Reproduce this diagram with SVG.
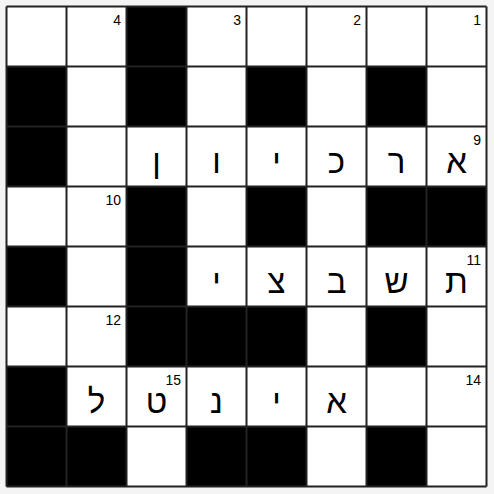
<svg xmlns="http://www.w3.org/2000/svg" width="494" height="494" viewBox="0 0 494 494">
<style>
.w{fill:#fff}
.b{fill:#000}
.grid{stroke:#222;stroke-width:2;fill:none}
.l{font-family:"Liberation Sans","DejaVu Sans",Arial,sans-serif;font-size:33px;fill:#000;text-anchor:middle}
.n{font-family:"Liberation Sans","DejaVu Sans",Arial,sans-serif;font-size:14px;fill:#000;text-anchor:end}
</style>
<rect x="0" y="0" width="494" height="494" fill="#f4f4f4"/>
<g id="cells">
<rect class="w" x="6.5" y="6.5" width="480" height="480"/>
<g id="black">
<rect class="b" x="126.5" y="6.5" width="60" height="60"/>
<rect class="b" x="6.5" y="66.5" width="60" height="60"/>
<rect class="b" x="126.5" y="66.5" width="60" height="60"/>
<rect class="b" x="246.5" y="66.5" width="60" height="60"/>
<rect class="b" x="366.5" y="66.5" width="60" height="60"/>
<rect class="b" x="6.5" y="126.5" width="60" height="60"/>
<rect class="b" x="126.5" y="186.5" width="60" height="60"/>
<rect class="b" x="246.5" y="186.5" width="60" height="60"/>
<rect class="b" x="366.5" y="186.5" width="120" height="60"/>
<rect class="b" x="6.5" y="246.5" width="60" height="60"/>
<rect class="b" x="126.5" y="246.5" width="60" height="60"/>
<rect class="b" x="126.5" y="306.5" width="180" height="60"/>
<rect class="b" x="366.5" y="306.5" width="60" height="60"/>
<rect class="b" x="6.5" y="366.5" width="60" height="60"/>
<rect class="b" x="6.5" y="426.5" width="120" height="60"/>
<rect class="b" x="186.5" y="426.5" width="120" height="60"/>
<rect class="b" x="366.5" y="426.5" width="60" height="60"/>
</g>
</g>
<path id="grid" class="grid" d="M6.5 6.5V486.5M66.5 6.5V486.5M126.5 6.5V486.5M186.5 6.5V486.5M246.5 6.5V486.5M306.5 6.5V486.5M366.5 6.5V486.5M426.5 6.5V486.5M486.5 6.5V486.5M6.5 6.5H486.5M6.5 66.5H486.5M6.5 126.5H486.5M6.5 186.5H486.5M6.5 246.5H486.5M6.5 306.5H486.5M6.5 366.5H486.5M6.5 426.5H486.5M6.5 486.5H486.5"/>
<g id="numbers">
<text class="n" x="121" y="24.5">4</text>
<text class="n" x="241" y="24.5">3</text>
<text class="n" x="361" y="24.5">2</text>
<text class="n" x="481" y="24.5">1</text>
<text class="n" x="481" y="144.5">9</text>
<text class="n" x="121" y="204.5">10</text>
<text class="n" x="481" y="264.5">11</text>
<text class="n" x="121" y="324.5">12</text>
<text class="n" x="181" y="384.5">15</text>
<text class="n" x="481" y="384.5">14</text>
</g>
<g id="letters">
<text class="l" x="156.5" y="172.5">ן</text>
<text class="l" x="216.5" y="172.5">ו</text>
<text class="l" x="276.5" y="172.5">י</text>
<text class="l" x="336.5" y="172.5">כ</text>
<text class="l" x="396.5" y="172.5">ר</text>
<text class="l" x="456.5" y="172.5">א</text>
<text class="l" x="216.5" y="292.5">י</text>
<text class="l" x="276.5" y="292.5">צ</text>
<text class="l" x="336.5" y="292.5">ב</text>
<text class="l" x="396.5" y="292.5">ש</text>
<text class="l" x="456.5" y="292.5">ת</text>
<text class="l" x="96.5" y="412.5">ל</text>
<text class="l" x="156.5" y="412.5">ט</text>
<text class="l" x="216.5" y="412.5">נ</text>
<text class="l" x="276.5" y="412.5">י</text>
<text class="l" x="336.5" y="412.5">א</text>
</g>
</svg>
